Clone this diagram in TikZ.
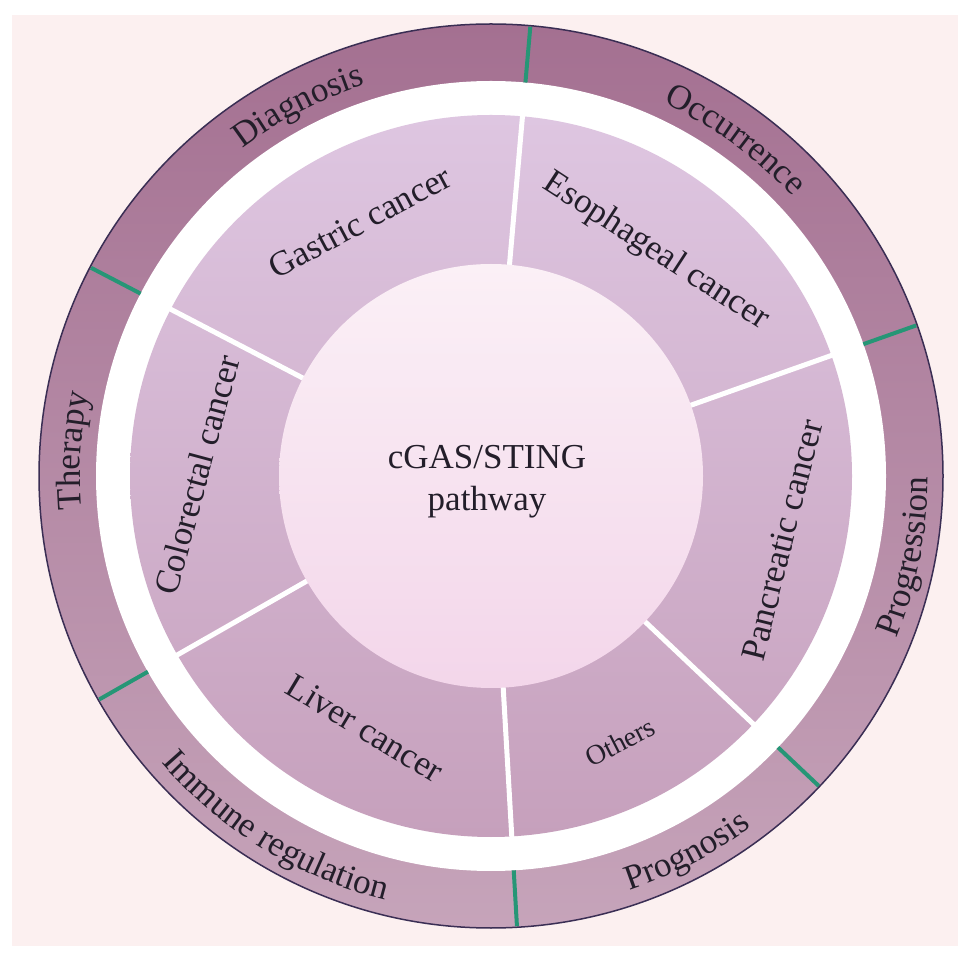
\documentclass[tikz,border=0pt]{standalone}
\usepackage{fontspec}
\setmainfont{Liberation Serif}
\usetikzlibrary{decorations.text}
\definecolor{bgpink}{RGB}{252,240,240}
\definecolor{ringtop}{RGB}{164,112,145}
\definecolor{ringbot}{RGB}{198,164,186}
\definecolor{ringedge}{RGB}{58,46,84}
\definecolor{divgreen}{RGB}{38,150,118}
\definecolor{sectop}{RGB}{222,198,225}
\definecolor{secbot}{RGB}{198,160,188}
\definecolor{ctrtop}{RGB}{251,240,246}
\definecolor{ctrbot}{RGB}{243,214,234}
\definecolor{txtcol}{RGB}{35,30,42}
\newcommand{\bigfont}{\fontsize{35}{42}\selectfont}
\newcommand{\smallfont}{\fontsize{28}{32}\selectfont}
\tikzset{
  seclabel/.style={text=txtcol,font=\bigfont,inner sep=0pt},
  ringtext/.style={decorate,decoration={text along path,text align=center,
      text color=txtcol,text={|\bigfont|#1}}}
}
\begin{document}
\begin{tikzpicture}[x=1pt,y=1pt]
\path[use as bounding box] (0,0) rectangle (969,959);
\fill[white] (0,0) rectangle (969,959);
\fill[bgpink] (12,13) rectangle (958,944);
\begin{scope}[shift={(491,483)}]
  % outer ring
  \shade[top color=ringtop,bottom color=ringbot] (0,0) circle[radius=452];
  \draw[ringedge,line width=1.5] (0,0) circle[radius=452];
  \fill[white] (0,0) circle[radius=395];
  \foreach \a in {85,19.5,-43.4,-86.7,209.7,152.5}
    \draw[divgreen,line width=4] (\a:395) -- (\a:451);
  % sectors
  \shade[top color=sectop,bottom color=secbot] (0,0) circle[radius=361];
  \foreach \a in {85,19.5,-43.4,-86.7,209.7,152.5}
    \draw[white,line width=5] (\a:205) -- (\a:365);
  % center circle
  \shade[top color=ctrtop,bottom color=ctrbot] (0,0) circle[radius=212];
  \node[seclabel,align=center] (center) at (-4,-6) {cGAS/STING\\pathway};
  % sector labels
  \node[seclabel,rotate=28] (gastric) at (-131,254) {Gastric cancer};
  \node[seclabel,rotate=-33] (eso) at (165,224) {Esophageal cancer};
  \node[seclabel,rotate=76] (pan) at (291,-64) {Pancreatic cancer};
  \node[seclabel,rotate=27,font=\smallfont] (others) at (129,-266) {Others};
  \node[seclabel,rotate=-31] (liver) at (-126,-252) {Liver cancer};
  \node[seclabel,rotate=75] (colo) at (-294,1) {Colorectal cancer};
  % ring labels
  \path[ringtext=Diagnosis] (147.5:411) arc[start angle=147.5,end angle=87.5,radius=411];
  \path[ringtext=Occurrence] (84:411) arc[start angle=84,end angle=24,radius=411];
  \path[ringtext=Therapy] (206.5:411) arc[start angle=206.5,end angle=146.5,radius=411];
  \path[ringtext=Progression] (-41:437) arc[start angle=-41,end angle=19,radius=437];
  \path[ringtext=Prognosis] (-92.5:437) arc[start angle=-92.5,end angle=-32.5,radius=437];
  \path[ringtext=Immune regulation] (208.5:437) arc[start angle=208.5,end angle=268.5,radius=437];
\end{scope}
\end{tikzpicture}
\end{document}
